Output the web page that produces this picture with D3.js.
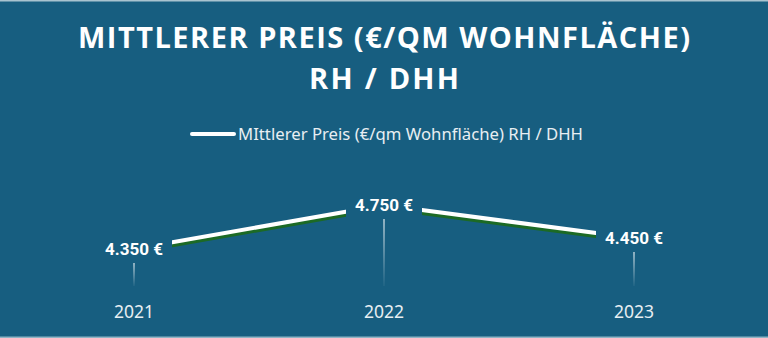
<!DOCTYPE html>
<html>
<head>
<meta charset="utf-8">
<script src="https://cdn.jsdelivr.net/npm/d3@7"></script>
<style>
  html, body { margin: 0; padding: 0; background: #175e80; }
  svg { display: block; }
</style>
</head>
<body>
<svg id="chart" width="768" height="338"></svg>
<script>
const years = ["2021", "2022", "2023"];
const prices = [4350, 4750, 4450];
const titleLines = ["MITTLERER PREIS (€/QM WOHNFLÄCHE)", "RH / DHH"];
const seriesName = "MIttlerer Preis (€/qm Wohnfläche) RH / DHH";

const width = 768, height = 338;
const bg = "#175e80";
const svg = d3.select("#chart");

svg.append("rect").attr("width", width).attr("height", height).attr("fill", bg);
svg.append("rect").attr("width", width).attr("height", 1.5).attr("fill", "#a9c3cf");
svg.append("rect").attr("y", height - 1.5).attr("width", width).attr("height", 1.5).attr("fill", "#8fb5c6");

// title
const titleFont = "bold 29px 'Open Sans', sans-serif";
svg.selectAll(".title")
    .data(titleLines)
    .join("text")
    .attr("class", "title")
    .attr("x", width / 2)
    .attr("y", (d, i) => 48 + i * 41)
    .attr("text-anchor", "middle")
    .attr("textLength", (d, i) => i === 0 ? 612 : 150)
    .attr("lengthAdjust", "spacing")
    .style("font", titleFont)
    .style("fill", "#ffffff")
    .text(d => d);

// legend
svg.append("line")
    .attr("x1", 192).attr("x2", 234)
    .attr("y1", 134).attr("y2", 134)
    .attr("stroke", "#ffffff")
    .attr("stroke-width", 4)
    .attr("stroke-linecap", "round");
svg.append("text")
    .attr("x", 238).attr("y", 139.5)
    .attr("textLength", 345)
    .attr("lengthAdjust", "spacingAndGlyphs")
    .style("font", "16px 'Noto Sans', sans-serif")
    .style("fill", "#e8eef2")
    .text(seriesName);

// scales
const x = d3.scalePoint().domain(years).range([134, 634]);
const y = d3.scaleLinear().domain([4350, 4750]).range([249, 205]);

const data = years.map((yr, i) => ({ year: yr, value: prices[i] }));

// drop lines with gradient
const defs = svg.append("defs");
const grad = defs.append("linearGradient")
    .attr("id", "dropGrad")
    .attr("x1", 0).attr("y1", 0).attr("x2", 0).attr("y2", 1);
grad.append("stop").attr("offset", "0%").attr("stop-color", "#ffffff").attr("stop-opacity", 0.7);
grad.append("stop").attr("offset", "100%").attr("stop-color", "#ffffff").attr("stop-opacity", 0.05);

svg.selectAll(".drop")
    .data(data)
    .join("rect")
    .attr("class", "drop")
    .attr("x", d => x(d.year) - 0.75)
    .attr("y", d => y(d.value) + 14)
    .attr("width", 1.5)
    .attr("height", d => 286 - (y(d.value) + 14))
    .attr("fill", "url(#dropGrad)");

// line: green shadow + white
const line = d3.line().x(d => x(d.year)).y(d => y(d.value));
svg.append("path")
    .datum(data)
    .attr("fill", "none")
    .attr("stroke", "#1c6a25")
    .attr("stroke-width", 4)
    .attr("transform", "translate(0,3)")
    .attr("d", line);
svg.append("path")
    .datum(data)
    .attr("fill", "none")
    .attr("stroke", "#ffffff")
    .attr("stroke-width", 4)
    .attr("d", line);

// value labels with masking background
const fmt = v => d3.format(",")(v).replace(",", ".") + " €";
const labels = svg.selectAll(".val")
    .data(data)
    .join("g")
    .attr("class", "val")
    .attr("transform", d => `translate(${x(d.year)},${y(d.value)})`);
labels.append("rect")
    .attr("x", -38).attr("y", -14)
    .attr("width", 76).attr("height", 28)
    .attr("fill", bg);
labels.append("text")
    .attr("text-anchor", "middle")
    .attr("dy", "0.36em")
    .style("font", "bold 17px Roboto, sans-serif")
    .style("fill", "#ffffff")
    .text(d => fmt(d.value));

// year axis labels
svg.selectAll(".year")
    .data(years)
    .join("text")
    .attr("class", "year")
    .attr("x", d => x(d))
    .attr("y", 318)
    .attr("text-anchor", "middle")
    .style("font", "17.5px 'Noto Sans', sans-serif")
    .style("fill", "#e8eef2")
    .text(d => d);
</script>
</body>
</html>
